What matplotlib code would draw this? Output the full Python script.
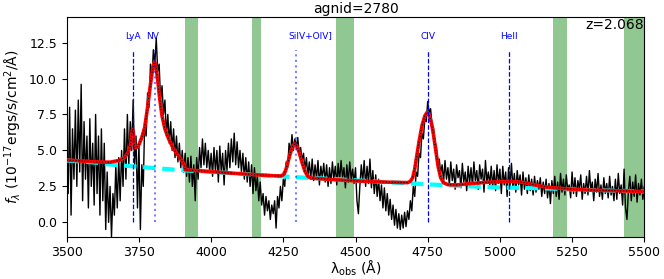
import numpy as np
import matplotlib
matplotlib.use("Agg")
import matplotlib.pyplot as plt

# object info
agnid = 2780
z = 2.068

wave_start = 3500
wave_step = 5
flux = [
    # 3500-3595
    5.5, 2.0, 8.0, 0.5, 6.5, 3.0, 7.8, 2.5, 8.5, 3.5, 9.6, 1.5, 7.0, 3.0, 6.0, 1.0, 7.2, 2.5, 5.5, 1.2,
    # 3600-3695
    7.5, 2.0, 6.0, 0.5, 6.5, 1.5, 5.5, -0.5, 3.5, 0.0, 2.5, -1.0, 2.0, 0.5, 4.0, 1.0, 4.5, 1.5, 5.0, 2.5,
    # 3700-3795
    6.5, 3.0, 7.5, 4.0, 7.0, 5.0, 8.5, 4.0, 6.0, 1.0, 5.5, -0.5, 4.0, 2.5, 7.0, 6.0, 9.0, 8.0, 11.0, 10.0,
    # 3800-3895
    12.0, 11.0, 12.8, 10.5, 11.0, 8.5, 9.5, 7.5, 8.5, 6.0, 7.5, 5.5, 7.0, 5.0, 6.5, 4.5, 6.0, 4.2, 5.5, 3.8,
    # 3900-3995
    5.0, 3.5, 4.8, 3.2, 4.5, 2.8, 4.6, 2.5, 4.0, 1.5, 4.5, 3.0, 5.2, 3.8, 5.8, 4.0, 5.5, 3.8, 5.0, 3.5,
    # 4000-4095
    4.8, 3.2, 5.2, 3.5, 5.0, 2.8, 5.3, 3.5, 4.8, 2.6, 5.0, 3.6, 5.5, 3.8, 5.8, 4.2, 6.2, 4.0, 5.6, 3.8,
    # 4100-4195
    5.0, 3.5, 4.8, 3.0, 4.5, 2.8, 4.2, 2.5, 4.0, 2.0, 3.8, 2.2, 3.2, 1.5, 2.8, 1.2, 2.0, 0.5, 1.8, 0.8,
    # 4200-4295
    1.5, 0.2, 1.2, 0.6, 1.5, -0.4, 1.8, 1.0, 2.5, 1.5, 3.0, 2.5, 4.2, 3.8, 5.5, 4.8, 6.1, 5.0, 5.8, 5.2,
    # 4300-4395
    5.9, 4.8, 5.2, 4.3, 4.8, 3.6, 4.5, 3.2, 4.2, 3.0, 4.4, 2.9, 4.0, 3.0, 4.3, 2.6, 3.9, 3.1, 4.1, 2.8,
    # 4400-4495
    4.0, 2.5, 3.8, 2.7, 4.2, 3.0, 3.9, 2.6, 4.1, 2.9, 4.3, 3.1, 3.8, 2.4, 4.0, 2.8, 4.2, 3.0, 3.7, 2.7,
    # 4500-4595
    3.8, 1.5, 0.6, 2.5, 4.0, 2.8, 4.3, 2.5, 3.9, 2.7, 4.4, 2.4, 3.6, 2.0, 3.3, 1.8, 3.0, 1.5, 2.6, 1.0,
    # 4600-4695
    2.4, 0.8, 2.0, 0.5, 1.6, 0.2, 1.2, -0.2, 0.9, -0.4, 0.6, -0.5, 0.5, -0.4, 0.7, -0.3, 0.8, 0.2, 1.5, 0.8,
    # 4700-4795
    2.5, 1.8, 3.5, 3.2, 4.8, 4.5, 6.2, 5.8, 7.2, 7.0, 8.4, 7.6, 7.9, 6.8, 6.6, 5.6, 5.3, 4.2, 4.4, 3.4,
    # 4800-4895
    4.0, 2.8, 4.3, 3.0, 3.8, 2.6, 4.2, 2.9, 3.7, 2.3, 4.0, 3.1, 3.6, 2.4, 4.1, 2.8, 3.5, 2.2, 3.9, 2.7,
    # 4900-4995
    3.8, 2.5, 4.2, 2.9, 3.6, 2.3, 4.0, 3.0, 3.7, 2.1, 4.3, 2.8, 3.5, 2.6, 3.9, 2.4, 3.6, 2.2, 4.0, 2.7,
    # 5000-5095
    3.7, 2.0, 3.9, 2.6, 3.5, 1.8, 3.8, 2.5, 4.1, 2.4, 3.4, 2.1, 3.6, 2.6, 3.3, 1.9, 3.5, 2.3, 3.1, 2.0,
    # 5100-5195
    3.3, 2.2, 3.0, 1.9, 3.2, 2.1, 2.9, 2.3, 3.1, 1.8, 2.8, 2.0, 3.0, 1.7, 2.7, 1.3, 2.9, 2.0, 3.2, 1.8,
    # 5200-5295
    2.8, 1.6, 3.4, 2.1, 3.0, 1.9, 3.3, 2.2, 2.6, 1.7, 3.5, 2.0, 3.1, 1.8, 2.9, 2.3, 3.3, 1.6, 2.7, 2.0,
    # 5300-5395
    3.2, 1.9, 3.6, 2.2, 2.8, 1.5, 3.0, 2.1, 3.4, 1.8, 2.6, 1.6, 3.1, 2.0, 2.7, 1.7, 3.2, 1.9, 2.5, 1.5,
    # 5400-5500
    3.0, 1.6, 3.4, 2.0, 2.6, 1.2, 3.7, 1.0, 0.2, 2.2, 3.2, 1.5, 2.8, 1.8, 3.3, 1.4, 2.7, 1.9, 3.0, 1.6,
    2.5,
]
wave = wave_start + wave_step * np.arange(len(flux))

# total model (red)
model_wave = [3500, 3550, 3600, 3650, 3680, 3700, 3712, 3720, 3725, 3728, 3731, 3735, 3742, 3750,
              3760, 3770, 3780, 3790, 3797, 3803, 3808, 3815, 3822, 3830, 3840, 3853, 3870, 3888,
              3900, 3908, 3910, 3950, 4000, 4100, 4200, 4240, 4250, 4258, 4265, 4275, 4283, 4290,
              4297, 4305, 4315, 4325, 4335, 4345, 4400, 4500, 4600, 4680, 4690, 4698, 4705, 4712,
              4720, 4730, 4740, 4748, 4755, 4763, 4770, 4778, 4786, 4795, 4805, 4820, 4850, 4900,
              4950, 5000, 5040, 5080, 5120, 5160, 5200, 5250, 5300, 5400, 5500]
model_flux = [4.33, 4.27, 4.2, 4.18, 4.3, 4.5, 4.85, 5.3, 6.1, 6.45, 6.2, 5.2, 5.2, 5.4,
              5.9, 6.6, 8.0, 9.6, 10.6, 11.15, 11.0, 9.9, 8.6, 7.4, 6.5, 5.8, 5.1, 4.6,
              4.25, 4.0, 3.65, 3.6, 3.52, 3.38, 3.25, 3.22, 3.3, 3.6, 4.1, 4.85, 5.3, 5.45,
              5.3, 4.85, 4.15, 3.55, 3.2, 3.08, 3.0, 2.88, 2.8, 2.76, 2.85, 3.1, 3.7, 4.6,
              5.6, 6.7, 7.4, 7.65, 7.5, 6.9, 6.1, 5.0, 3.9, 3.1, 2.75, 2.62, 2.6, 2.7,
              2.78, 2.82, 2.85, 2.78, 2.6, 2.45, 2.38, 2.3, 2.25, 2.2, 2.14]

# continuum (cyan)
cont_wave = [3500, 3600, 3650, 3800, 3900, 4000, 4150, 4300, 4450, 4600, 4750, 4900, 5000,
             5100, 5200, 5300, 5400, 5500]
cont_flux = [4.3, 4.15, 4.02, 3.78, 3.62, 3.5, 3.32, 3.13, 2.98, 2.8, 2.64, 2.5, 2.42,
             2.38, 2.33, 2.25, 2.2, 2.14]

# emission lines (rest wavelength)
line_names = ["LyA", "NV", "SiIV+OIV]", "CIV", "HeII"]
line_rest = [1215.67, 1240.14, 1400.0, 1549.06, 1640.42]
line_faint = [False, True, True, False, False]
label_shift = [0, -8, 48, 0, 0]  # label offset in A

# masked regions (green)
mask_lo = [3910, 4140, 4432, 5183, 5430]
mask_hi = [3955, 4172, 4494, 5231, 5500]

fig = plt.figure(figsize=(6.64, 2.79), dpi=100)
ax = fig.add_axes([0.1005, 0.1516, 0.8698, 0.7886])

for lo, hi in zip(mask_lo, mask_hi):
    ax.axvspan(lo, hi, color="green", alpha=0.43, lw=0, zorder=0)

ax.plot(wave, flux, color="black", lw=1.0, zorder=2)
ax.plot(cont_wave, cont_flux, color="cyan", ls="--", lw=3, dashes=(3, 1.6), zorder=3)
ax.plot(model_wave, model_flux, color="red", lw=2.6, zorder=4)
ax.plot(model_wave, model_flux, color="black", ls=":", lw=0.8, zorder=5)

for name, rest, faint, shift in zip(line_names, line_rest, line_faint, label_shift):
    wl = rest * (1 + z)
    if faint:
        ax.plot([wl, wl], [0, 12], color="blue", alpha=0.5, ls=":", lw=1.5, zorder=6)
    else:
        ax.plot([wl, wl], [0, 12], color="blue", ls="--", lw=0.9, zorder=6)
    ax.text(wl + shift, 12.95, name, color="blue", fontsize=6.5, ha="center", va="center")

ax.set_xlim(3500, 5500)
ax.set_ylim(-1.0, 14.3)
ax.set_xticks([3500, 3750, 4000, 4250, 4500, 4750, 5000, 5250, 5500])
ax.set_yticks([0, 2.5, 5, 7.5, 10, 12.5])
ax.set_yticklabels(["0.0", "2.5", "5.0", "7.5", "10.0", "12.5"])
ax.tick_params(labelsize=9)
ax.tick_params(axis="x", pad=3)

ax.set_xlabel(r"$\mathregular{\lambda_{obs}}$ (Å)", fontsize=10, labelpad=0)
ax.set_ylabel(r"$f_\lambda$ ($10^{-17}$ergs/s/cm$^2$/Å)", fontsize=10)
ax.set_title("agnid=%d" % agnid, fontsize=10, pad=3)
ax.text(0.999, 0.995, "z=%.3f" % z, transform=ax.transAxes, ha="right", va="top", fontsize=10)

fig.savefig("out.png", dpi=100)
